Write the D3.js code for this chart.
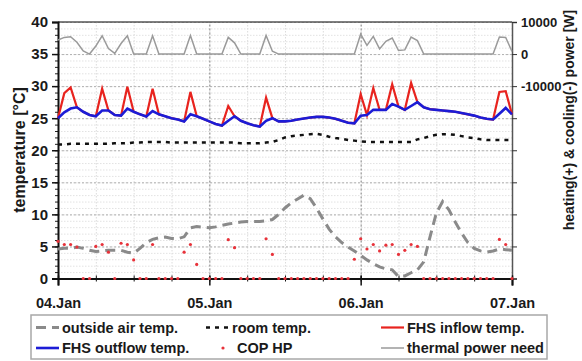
<!DOCTYPE html>
<html><head><meta charset="utf-8">
<script src="https://cdn.jsdelivr.net/npm/d3@7"></script>
<style>
body{margin:0;background:#fff}
svg{display:block;font-family:"Liberation Sans",Arial,sans-serif;font-weight:bold}
</style></head><body><svg></svg>
<script>
const width = 582
const height = 361
const svg = d3.select('svg').attr('width', width).attr('height', height)

// time axis in hours from 04.Jan 00:00
const days = ['04.Jan', '05.Jan', '06.Jan', '07.Jan']
const dayHours = [0, 24, 48, 72]
const hours = d3.range(0, 73)

const outsideTemp = [
  4.6, 4.7, 4.7, 4.9, 4.7, 4.4, 4.2, 4.3, 4.4, 4.4,
  4.4, 4.1, 3.95, 4.7, 5.6, 6.1, 6.35, 6.45, 6.25, 6.2,
  6.5, 7.9, 8.1, 8.0, 7.9, 8.05, 8.3, 8.5, 8.65, 8.8,
  8.9, 8.9, 8.9, 9.0, 9.2, 10.0, 11.0, 11.8, 12.4, 13.0,
  12.45, 11.0, 9.3, 7.7, 6.5, 5.6, 4.9, 4.3, 3.6, 2.9,
  2.3, 1.8, 1.5, 1.35, 0.3, 0.4, 0.9, 1.35, 2.6, 6.5,
  10.2, 12.0, 10.7, 8.8, 7.1, 5.6, 4.7, 4.3, 4.1, 4.3,
  4.6, 4.5, 4.4
]
const roomTemp = [
  20.9, 20.9, 21.0, 21.0, 21.0, 21.0, 21.0, 21.0, 21.0, 21.1,
  21.1, 21.1, 21.2, 21.2, 21.3, 21.3, 21.3, 21.3, 21.2, 21.2,
  21.2, 21.2, 21.2, 21.2, 21.2, 21.2, 21.2, 21.2, 21.2, 21.1,
  21.1, 21.1, 21.1, 21.2, 21.3, 21.6, 22.0, 22.2, 22.3, 22.4,
  22.5, 22.55, 22.4, 22.1, 21.9, 21.8, 21.6, 21.5, 21.4, 21.3,
  21.3, 21.3, 21.3, 21.3, 21.3, 21.3, 21.3, 21.7, 21.9, 22.2,
  22.4, 22.5, 22.5, 22.4, 22.2, 22.0, 21.9, 21.7, 21.6, 21.6,
  21.6, 21.6, 21.6
]
const inflowTemp = [
  25.0, 28.9, 29.8, 26.7, 26.0, 25.5, 25.3, 29.6, 26.2, 25.5,
  25.4, 29.9, 26.0, 25.6, 25.25, 29.6, 25.6, 25.3, 25.0, 24.8,
  24.5, 29.1, 25.3, 24.9, 24.5, 24.1, 23.85, 26.9, 25.3, 24.6,
  24.2, 23.9, 23.7, 28.2, 25.0, 24.5, 24.5, 24.6, 24.8, 24.95,
  25.1, 25.2, 25.2, 25.1, 24.9, 24.6, 24.3, 24.2, 28.75, 25.5,
  29.7, 26.3, 26.3, 30.3, 26.8, 26.3, 30.5, 27.5, 26.7, 26.4,
  26.3, 26.2, 26.1, 26.0, 25.8, 25.6, 25.4, 25.1, 24.9, 24.8,
  29.1, 29.2, 25.6
]
const outflowTemp = [
  25.0, 25.9, 26.5, 26.7, 26.0, 25.5, 25.3, 26.2, 26.2, 25.5,
  25.4, 26.5, 26.0, 25.6, 25.25, 26.1, 25.6, 25.3, 25.0, 24.8,
  24.5, 25.6, 25.3, 24.9, 24.5, 24.1, 23.85, 24.6, 25.3, 24.6,
  24.2, 23.9, 23.7, 24.6, 25.0, 24.5, 24.5, 24.6, 24.8, 24.95,
  25.1, 25.2, 25.2, 25.1, 24.9, 24.6, 24.3, 24.2, 25.4, 25.5,
  26.3, 26.3, 26.3, 27.2, 26.8, 26.3, 26.9, 27.5, 26.7, 26.4,
  26.3, 26.2, 26.1, 26.0, 25.8, 25.6, 25.4, 25.1, 24.9, 24.8,
  25.7, 26.6, 25.6
]
const copHP = [
  5.8, 5.3, 5.3, 4.9, 0, 0, 5.0, 5.3, 4.1, 0,
  5.5, 5.3, 2.9, 0, 0, 5.3, 0, 0, 0, 0,
  4.1, 5.3, 2.2, 0, 0, 0, 0, 6.05, 4.8, 0,
  0, 0, 0, 6.2, 3.75, 0, 0, 0, 0, 0,
  0, 0, 0, 0, 0, 0, 0, 3.0, 6.2, 4.6,
  5.3, 4.3, 5.2, 5.3, 3.75, 4.4, 5.3, 5.0, 0, 0,
  0, 0, 0, 0, 0, 0, 0, 0, 0, 0,
  6.1, 5.3, 0
]
const powerNeed = [
  4400, 5200, 5400, 3700, 1000, 0, 2500, 5700, 1700, 200,
  3300, 5700, 0, 0, 0, 5700, 0, 0, 0, 0,
  0, 5800, 0, 0, 0, 0, 0, 5200, 3500, 0,
  0, 0, 0, 5800, 900, 0, 0, 0, 0, 0,
  0, 0, 0, 0, 0, 0, 0, 0, 6200, 2700,
  5500, 1600, 4000, 5000, 1100, 1300, 5300, 4200, 0, 0,
  0, 0, 0, 0, 0, 0, 0, 0, 0, 0,
  5300, 5200, 800
]
const tempTicks = [0, 5, 10, 15, 20, 25, 30, 35, 40]
const powerTicks = [-70000, -60000, -50000, -40000, -30000, -20000, -10000, 0, 10000]
const powerLabels = [10000, 0, -10000]

const pLeft = 58, pRight = 512, pTop = 22, pBottom = 278.5

const x = d3.scaleLinear().domain([0, 72]).range([pLeft, pRight])
const y = d3.scaleLinear().domain([0, 40]).range([pBottom, pTop])
const yPow = d3.scaleLinear().domain([-70000, 10000]).range([pBottom, pTop])

// grid
function grid(axis, tf, color, dash) {
  const g = svg.append('g').attr('transform', tf).call(axis)
  g.select('.domain').remove()
  g.selectAll('line').attr('stroke', color).attr('stroke-dasharray', dash)
}
grid(d3.axisLeft(y).tickValues(d3.range(0, 41)).tickSize(-(pRight - pLeft)).tickFormat(''),
  `translate(${pLeft},0)`, '#e2e2e2', '1.5,1.5')
grid(d3.axisBottom(x).tickValues(d3.range(0, 73, 6)).tickSize(-(pBottom - pTop)).tickFormat(''),
  `translate(0,${pBottom})`, '#dcdcdc', '1.5,1.5')
grid(d3.axisLeft(y).tickValues(tempTicks).tickSize(-(pRight - pLeft)).tickFormat(''),
  `translate(${pLeft},0)`, '#b0b0b0', '2,2')
grid(d3.axisBottom(x).tickValues(dayHours).tickSize(-(pBottom - pTop)).tickFormat(''),
  `translate(0,${pBottom})`, '#888', '2,2')

// frame
svg.append('line').attr('x1', pLeft).attr('x2', pRight).attr('y1', pTop).attr('y2', pTop)
  .attr('stroke', '#555').attr('stroke-width', 1.5)

// left axis
const gMinor = svg.append('g').attr('transform', `translate(${pLeft},0)`)
  .call(d3.axisLeft(y).tickValues(d3.range(0, 41)).tickSize(3).tickFormat(''))
gMinor.select('.domain').remove()
gMinor.selectAll('line').attr('stroke', '#222')

const gLeft = svg.append('g').attr('transform', `translate(${pLeft},0)`)
  .call(d3.axisLeft(y).tickValues(tempTicks).tickSize(6).tickPadding(4))
gLeft.select('.domain').attr('stroke', '#111').attr('stroke-width', 2)
gLeft.selectAll('.tick line').attr('stroke', '#111').attr('stroke-width', 1.5)
gLeft.selectAll('text').attr('font-size', 15).attr('font-family', null).attr('fill', '#1a1a1a')

// right axis
const gRight = svg.append('g').attr('transform', `translate(${pRight},0)`)
  .call(d3.axisRight(yPow).tickValues(powerTicks).tickSize(5).tickPadding(4)
    .tickFormat(d => powerLabels.includes(d) ? String(d) : ''))
gRight.select('.domain').attr('stroke', '#555').attr('stroke-width', 1.5)
gRight.selectAll('.tick line').attr('stroke', '#333')
gRight.selectAll('text').attr('font-size', 13).attr('font-family', null).attr('fill', '#1a1a1a')

// bottom axis
const gBotMinor = svg.append('g').attr('transform', `translate(0,${pBottom})`)
  .call(d3.axisBottom(x).tickValues(d3.range(0, 73, 6)).tickSize(3).tickFormat(''))
gBotMinor.select('.domain').remove()
gBotMinor.selectAll('line').attr('y1', -3).attr('stroke', '#111')

const gBottom = svg.append('g').attr('transform', `translate(0,${pBottom})`)
  .call(d3.axisBottom(x).tickValues(dayHours).tickSize(7).tickPadding(12)
    .tickFormat((d, i) => days[i]))
gBottom.select('.domain').attr('stroke', '#111').attr('stroke-width', 2)
gBottom.selectAll('.tick line').attr('y1', -3).attr('stroke', '#111').attr('stroke-width', 1.5)
gBottom.selectAll('text').attr('font-size', 14.5).attr('font-family', null).attr('fill', '#1a1a1a')

// axis titles
svg.append('text').attr('transform', 'translate(25,150) rotate(-90)')
  .attr('text-anchor', 'middle').attr('font-size', 16).attr('fill', '#1a1a1a')
  .text('temperature [°C]')
svg.append('text').attr('transform', 'translate(574,120) rotate(-90)')
  .attr('text-anchor', 'middle').attr('font-size', 14).attr('fill', '#1a1a1a')
  .text('heating(+) & cooling(-) power [W]')

// series
const lineT = d3.line().x((d, i) => x(hours[i])).y(d => y(d))
const lineP = d3.line().x((d, i) => x(hours[i])).y(d => yPow(d))

svg.append('path').datum(powerNeed).attr('d', lineP)
  .attr('fill', 'none').attr('stroke', '#9a9a9a').attr('stroke-width', 1.5)
svg.append('path').datum(outsideTemp).attr('d', lineT)
  .attr('fill', 'none').attr('stroke', '#8a8a8a').attr('stroke-width', 3)
  .attr('stroke-dasharray', '10,6')
svg.append('path').datum(roomTemp).attr('d', lineT)
  .attr('fill', 'none').attr('stroke', '#111').attr('stroke-width', 2.5)
  .attr('stroke-dasharray', '4,5')
svg.append('path').datum(inflowTemp).attr('d', lineT)
  .attr('fill', 'none').attr('stroke', '#e8231e').attr('stroke-width', 2.2)
svg.append('path').datum(outflowTemp).attr('d', lineT)
  .attr('fill', 'none').attr('stroke', '#1c1cd6').attr('stroke-width', 2.6)

svg.append('g').selectAll('circle').data(copHP).enter().append('circle')
  .attr('cx', (d, i) => x(hours[i])).attr('cy', d => y(d)).attr('r', 1.6)
  .attr('fill', '#e8323a')

// legend
const legend = svg.append('g')
legend.append('rect').attr('x', 31).attr('y', 315).attr('width', 516).attr('height', 44)
  .attr('fill', '#fff').attr('stroke', '#a8a8a8').attr('stroke-width', 1.5)

const items = [
  {label: 'outside air temp.', x: 36, row: 0, color: '#8a8a8a', w: 3, dash: '10,6'},
  {label: 'room temp.', x: 206, row: 0, color: '#111', w: 2.5, dash: '4,5'},
  {label: 'FHS inflow temp.', x: 381, row: 0, color: '#e8231e', w: 2.2},
  {label: 'FHS outflow temp.', x: 36, row: 1, color: '#1c1cd6', w: 2.6},
  {label: 'COP HP', x: 206, row: 1, color: '#e8323a', dot: true},
  {label: 'thermal power need', x: 381, row: 1, color: '#9a9a9a', w: 1.5}
]
const rowY = [327.5, 348]
items.forEach(it => {
  const cy = rowY[it.row]
  if (it.dot) {
    legend.append('circle').attr('cx', it.x + 17).attr('cy', cy).attr('r', 1.6).attr('fill', it.color)
    legend.append('text').attr('x', it.x + 31).attr('y', cy + 5).attr('font-size', 14.5)
      .attr('fill', '#1a1a1a').text(it.label)
  } else {
    legend.append('line').attr('x1', it.x).attr('x2', it.x + 23).attr('y1', cy).attr('y2', cy)
      .attr('stroke', it.color).attr('stroke-width', it.w).attr('stroke-dasharray', it.dash || null)
    legend.append('text').attr('x', it.x + 26).attr('y', cy + 5).attr('font-size', 14.5)
      .attr('fill', '#1a1a1a').text(it.label)
  }
})
</script></body></html>
